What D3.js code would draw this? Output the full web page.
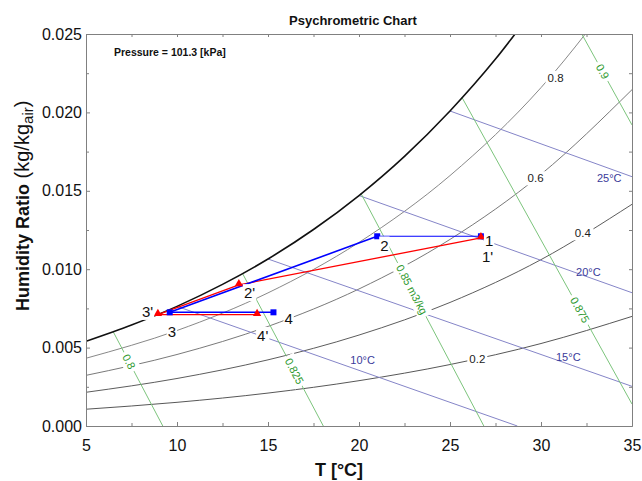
<!DOCTYPE html>
<html>
<head>
<meta charset="utf-8">
<script src="https://cdn.jsdelivr.net/npm/d3@7"></script>
<style>
    body { margin: 0; background: #fff; }
    svg { font-family: "Liberation Sans", Arial, sans-serif; }
</style>
</head>
<body>
<svg id="chart" width="642" height="481"></svg>
<script>
// ---- data ----
const xTicks = [5, 10, 15, 20, 25, 30, 35]
const xMinorTicks = [7.5, 12.5, 17.5, 22.5, 27.5, 32.5]
const yTicks = [0, 0.005, 0.010, 0.015, 0.020, 0.025]
const yMinorTicks = [0.0025, 0.0075, 0.0125, 0.0175, 0.0225]

// saturation curve (relative humidity 1.0)
const satTemps = [5, 7.5, 10, 12.5, 15, 17.5, 20, 22.5, 25, 27.5, 30]
const satW = [0.00540, 0.00644, 0.00763, 0.00903, 0.01065, 0.01253, 0.01470, 0.01720, 0.02009, 0.02340, 0.02722]

// relative humidity curves
const rhTemps = [5, 10, 15, 20, 25, 30, 35]
const rh20 = [0.00107, 0.00151, 0.00210, 0.00289, 0.00392, 0.00526, 0.00699]
const rh40 = [0.00215, 0.00303, 0.00422, 0.00580, 0.00788, 0.01061, 0.01414]
const rh60 = [0.00323, 0.00456, 0.00635, 0.00874, 0.01190, 0.01605, 0.02145]
const rh80 = [0.00432, 0.00609, 0.00849, 0.01171, 0.01597, 0.02158, 0.02894]
const rhNames = ["0.2", "0.4", "0.6", "0.8"]
const rhLabelT = [26.5, 32.3, 29.7, 30.8]
const rhLabelW = [0.00425, 0.01229, 0.0158, 0.0222]

// wet bulb lines
const wbNames = ["10°C", "15°C", "20°C", "25°C"]
const wbStartT = [10, 15, 20, 25]
const wbStartW = [0.00763, 0.01065, 0.01470, 0.02009]
const wbEndT = [28.7, 35, 35, 35]
const wbEndW = [0, 0.00253, 0.0085, 0.0159]
const wbLabelT = [20.2, 31.5, 32.6, 33.75]
const wbLabelW = [0.00417, 0.00438, 0.00984, 0.0158]

// specific volume lines
const volNames = ["0.8", "0.825", "0.85 m3/kg", "0.875", "0.9"]
const volStartT = [6.5, 13.6, 20.1, 25.65, 32.24]
const volStartW = [0.0060, 0.00973, 0.01485, 0.02097, 0.025]
const volEndT = [9.22, 18.04, 26.86, 35, 35]
const volEndW = [0, 0, 0, 0.0014, 0.0192]
const volLabelW = [0.0041, 0.0035, 0.0087, 0.0074, 0.0226]

// process states
const stateNames = ["1", "2", "3", "4"]
const stateT = [26.7, 21.0, 9.6, 15.3]
const stateW = [0.0121, 0.0121, 0.00725, 0.00725]
const primeNames = ["1'", "2'", "3'", "4'"]
const primeT = [26.7, 13.4, 8.95, 14.4]
const primeW = [0.0120, 0.0090, 0.0071, 0.0071]

// ---- drawing ----
const svg = d3.select("#chart")

const x = d3.scaleLinear().domain([5, 35]).range([86, 632])
const y = d3.scaleLinear().domain([0, 0.025]).range([426, 34])

svg.append("defs").append("clipPath").attr("id", "plot-clip")
    .append("rect")
    .attr("x", x(5)).attr("y", y(0.025))
    .attr("width", x(35) - x(5)).attr("height", y(0) - y(0.025))

const plot = svg.append("g").attr("clip-path", "url(#plot-clip)")
const labels = svg.append("g")

const curve = d3.line()
    .x(d => x(d[0]))
    .y(d => y(d[1]))
    .curve(d3.curveMonotoneX)

// text with a white box behind it, so it cuts the lines it sits on
function boxedText(parent, px, py, text, opt) {
    var g = parent.append("g")
        .attr("transform", "translate(" + px + "," + py + ") rotate(" + (opt.angle || 0) + ")")
    var rect = g.append("rect").attr("fill", "#fff")
    var t = g.append("text")
        .attr("text-anchor", opt.anchor || "middle")
        .attr("dy", opt.dy || "0.35em")
        .attr("font-size", opt.size)
        .attr("fill", opt.color)
        .text(text)
    var bb = t.node().getBBox()
    var pad = opt.pad == null ? 2 : opt.pad
    rect.attr("x", bb.x - pad).attr("y", bb.y - pad + 1)
        .attr("width", bb.width + 2 * pad).attr("height", bb.height + 2 * pad - 2)
    return g
}

// relative humidity curves
var rhSeries = [rh20, rh40, rh60, rh80]
var rhColors = ["#444", "#4a4a4a", "#6a6a6a", "#7a7a7a"]
rhSeries.forEach(function (vals, i) {
    plot.append("path")
        .attr("d", curve(rhTemps.map((t, j) => [t, vals[j]])))
        .attr("fill", "none")
        .attr("stroke", rhColors[i])
        .attr("stroke-width", 0.9)
})

// wet bulb lines
wbNames.forEach(function (name, i) {
    plot.append("line")
        .attr("x1", x(wbStartT[i])).attr("y1", y(wbStartW[i]))
        .attr("x2", x(wbEndT[i])).attr("y2", y(wbEndW[i]))
        .attr("stroke", "#8585c8")
        .attr("stroke-width", 1)
})

// specific volume lines
volNames.forEach(function (name, i) {
    plot.append("line")
        .attr("x1", x(volStartT[i])).attr("y1", y(volStartW[i]))
        .attr("x2", x(volEndT[i])).attr("y2", y(volEndW[i]))
        .attr("stroke", "#7cc47c")
        .attr("stroke-width", 1)
})

// saturation curve
plot.append("path")
    .attr("d", curve(satTemps.map((t, j) => [t, satW[j]])))
    .attr("fill", "none")
    .attr("stroke", "#111")
    .attr("stroke-width", 1.6)

// rh labels
rhNames.forEach(function (name, i) {
    boxedText(labels, x(rhLabelT[i]), y(rhLabelW[i]), name, {size: 11.5, color: "#222"})
})

// wet bulb labels
wbNames.forEach(function (name, i) {
    labels.append("text")
        .attr("x", x(wbLabelT[i])).attr("y", y(wbLabelW[i]))
        .attr("dy", "0.35em")
        .attr("text-anchor", "middle")
        .attr("font-size", 11)
        .attr("fill", "#3a3a9a")
        .text(name)
})

// volume labels, placed on their line and turned along it
volNames.forEach(function (name, i) {
    var x1 = x(volStartT[i]), y1 = y(volStartW[i])
    var x2 = x(volEndT[i]), y2 = y(volEndW[i])
    var f = (volLabelW[i] - volStartW[i]) / (volEndW[i] - volStartW[i])
    var px = x1 + f * (x2 - x1), py = y1 + f * (y2 - y1)
    var angle = Math.atan2(y2 - y1, x2 - x1) * 180 / Math.PI
    boxedText(labels, px, py, name, {size: 11, color: "#2f9a2f", angle: angle, pad: 3})
})

// process lines
var proc = svg.append("g")
function segs(ts, ws) {
    return [[0, 1], [1, 2], [2, 3]].map(p => [[ts[p[0]], ws[p[0]]], [ts[p[1]], ws[p[1]]]])
}
var straight = d3.line().x(d => x(d[0])).y(d => y(d[1]))
segs(primeT, primeW).forEach(function (s) {
    proc.append("path").attr("d", straight(s))
        .attr("fill", "none").attr("stroke", "#ff0000").attr("stroke-width", 1.3)
})
segs(stateT, stateW).forEach(function (s, i) {
    proc.append("path").attr("d", straight(s))
        .attr("fill", "none").attr("stroke", "#0000ff").attr("stroke-width", i == 0 ? 1.1 : 1.6)
})

stateNames.forEach(function (n, i) {
    proc.append("path")
        .attr("transform", "translate(" + x(stateT[i]) + "," + y(stateW[i]) + ")")
        .attr("d", d3.symbol(d3.symbolSquare, 36)())
        .attr("fill", "#0000ff")
})
primeNames.forEach(function (n, i) {
    proc.append("path")
        .attr("transform", "translate(" + x(primeT[i]) + "," + (y(primeW[i]) - 1) + ")")
        .attr("d", d3.symbol(d3.symbolTriangle, 30)())
        .attr("fill", "#ff0000")
})

// state labels, offsets in px from the marker
var stateOffsets = [[4, 4], [3, 9], [-2, 19], [11, 6]]
var primeOffsets = [[1, 19], [5, 8], [-16, -3], [0, 21]]
stateNames.forEach(function (n, i) {
    boxedText(proc, x(stateT[i]) + stateOffsets[i][0], y(stateW[i]) + stateOffsets[i][1], n,
        {size: 15, color: "#111", anchor: "start", dy: 0, pad: 1})
})
primeNames.forEach(function (n, i) {
    boxedText(proc, x(primeT[i]) + primeOffsets[i][0], y(primeW[i]) + primeOffsets[i][1], n,
        {size: 15, color: "#111", anchor: "start", dy: 0, pad: 1})
})

// axes: frame on four sides with inward ticks
function styleAxis(g) {
    g.select(".domain").attr("stroke", "#808080")
    g.selectAll(".tick line").attr("stroke", "#808080")
    g.selectAll(".tick text").attr("fill", "#111").attr("font-size", 16)
        .attr("font-family", "Liberation Sans, Arial, sans-serif")
}
svg.append("g").attr("transform", "translate(0,426)")
    .call(d3.axisBottom(x).tickValues(xTicks).tickSizeInner(-4).tickSizeOuter(0).tickPadding(14).tickFormat(d3.format("d")))
    .call(styleAxis)
svg.append("g").attr("transform", "translate(0,426)")
    .call(d3.axisBottom(x).tickValues(xMinorTicks).tickSizeInner(-3).tickSizeOuter(0).tickFormat(""))
    .call(styleAxis)
svg.append("g").attr("transform", "translate(0,34)")
    .call(d3.axisTop(x).tickValues(xTicks.concat(xMinorTicks)).tickSizeInner(-3).tickSizeOuter(0).tickFormat(""))
    .call(styleAxis)
svg.append("g").attr("transform", "translate(86,0)")
    .call(d3.axisLeft(y).tickValues(yTicks).tickSizeInner(-4).tickSizeOuter(0).tickPadding(4).tickFormat(d3.format(".3f")))
    .call(styleAxis)
svg.append("g").attr("transform", "translate(86,0)")
    .call(d3.axisLeft(y).tickValues(yMinorTicks).tickSizeInner(-3).tickSizeOuter(0).tickFormat(""))
    .call(styleAxis)
svg.append("g").attr("transform", "translate(632,0)")
    .call(d3.axisRight(y).tickValues(yTicks.concat(yMinorTicks)).tickSizeInner(-3).tickSizeOuter(0).tickFormat(""))
    .call(styleAxis)

// titles
svg.append("text")
    .attr("x", 353).attr("y", 25)
    .attr("text-anchor", "middle")
    .attr("font-size", 13).attr("font-weight", "bold").attr("fill", "#111")
    .text("Psychrometric Chart")

svg.append("text")
    .attr("x", 114).attr("y", 56)
    .attr("font-size", 10.5).attr("font-weight", "bold").attr("fill", "#111")
    .text("Pressure = 101.3 [kPa]")

svg.append("text")
    .attr("x", 339).attr("y", 476)
    .attr("text-anchor", "middle")
    .attr("font-size", 18).attr("font-weight", "bold").attr("fill", "#111")
    .text("T [°C]")

var yl = svg.append("text")
    .attr("transform", "translate(29,311) rotate(-90)")
    .attr("fill", "#111")
yl.append("tspan").attr("font-size", 18).attr("font-weight", "bold").text("Humidity Ratio")
yl.append("tspan").attr("font-size", 20).text(" (kg/kg")
yl.append("tspan").attr("font-size", 15).attr("dy", 4).text("air")
yl.append("tspan").attr("font-size", 20).attr("dy", -4).text(")")
</script>
</body>
</html>
